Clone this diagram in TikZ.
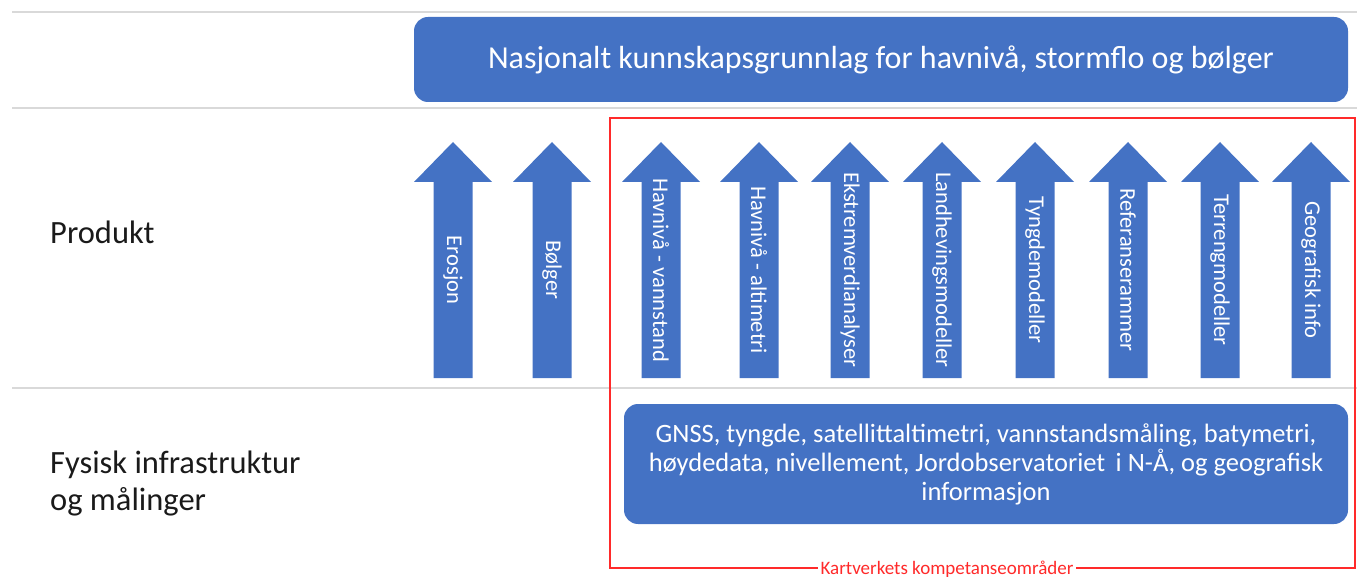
\documentclass[tikz,border=0pt]{standalone}
\usepackage{fontspec}
\setmainfont{Carlito}
\usetikzlibrary{positioning,calc}
\definecolor{cBlue}{HTML}{4472C4}
\definecolor{cRule}{HTML}{D9D9D9}
\definecolor{cRed} {HTML}{FF2A2A}
\definecolor{cText}{HTML}{1A1A1A}
\tikzset{
  sbox/.style={rounded corners=14pt,fill=cBlue,text=white,align=center,inner sep=4pt},
  srow/.style={anchor=west,align=left,text=cText,inner sep=0pt,
               font=\fontsize{32.5}{37}\selectfont},
  sline/.style={cRule,line width=1.5pt},
  sarr/.style={fill=cBlue},
  slab/.style={text=white,rotate=-90,inner sep=0pt,
               font=\fontsize{22.5}{25}\selectfont},
  sframe/.style={cRed,line width=1.6pt},
}

\begin{document}
\begin{tikzpicture}[x=1pt,y=-1pt]
  \useasboundingbox (0,0) rectangle (1357,577);
  % row rules
  \draw[sline] (12,12) -- (1357,12);
  \draw[sline] (12,108) -- (1357,108);
  \draw[sline] (12,388) -- (1357,388);

  % top box
  \node[sbox,minimum width=934pt,minimum height=85pt,
        font=\fontsize{32}{37}\selectfont] (top) at (881,59.5)
        {Nasjonalt kunnskapsgrunnlag for havnivå, stormflo og bølger};

  % row labels
  \node[srow] (prod) at (50,232) {Produkt};
  \node[srow] (fys) at (50,484) {Fysisk infrastruktur\\og målinger};

  % competence frame
  \draw[sframe] (610,118) rectangle (1355,568);
  \node[fill=white,text=cRed,inner sep=3pt,font=\fontsize{19}{21}\selectfont]
       (komp) at (947,569) {Kartverkets kompetanseområder};

  % product arrows
  \foreach \name/\x/\txt in {ero/453/Erosjon, bol/552/Bølger,
      hvv/661/Havnivå - vannstand, hva/759/Havnivå - altimetri,
      eks/850/Ekstremverdianalyser, lan/942/Landhevingsmodeller,
      tyn/1035/Tyngdemodeller, ref/1128/Referanserammer,
      ter/1220/Terrengmodeller, geo/1311/Geografisk info} {
    \fill[sarr] (\x-19.5,378) -- (\x-19.5,182) -- (\x-39,182) -- (\x,142)
      -- (\x+39,182) -- (\x+19.5,182) -- (\x+19.5,378) -- cycle;
    \node[slab] (\name) at (\x,270) {\txt};
  }

  % infrastructure box
  \node[sbox,minimum width=724pt,minimum height=120pt,
        font=\fontsize{26.5}{29}\selectfont] (infra) at (986,464)
        {GNSS, tyngde, satellittaltimetri, vannstandsmåling, batymetri,\\
         høydedata, nivellement, Jordobservatoriet\, i N-Å, og geografisk\\
         informasjon};
\end{tikzpicture}
\end{document}
